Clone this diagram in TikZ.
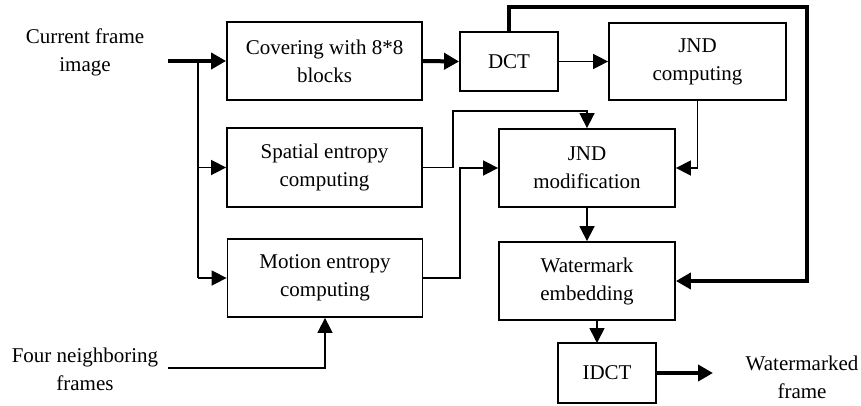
\documentclass[tikz,border=0pt]{standalone}
\usepackage{fontspec}
\setmainfont{Liberation Serif}
\usetikzlibrary{arrows.meta}
\begin{document}
\begin{tikzpicture}[x=1pt,y=-1pt,
  txt/.style={font=\fontsize{21}{28}\selectfont, align=center, inner sep=0pt},
  blk/.style={txt, draw, line width=1.8pt, minimum width=#1},
  thinln/.style={line width=1.6pt},
  thickln/.style={line width=4pt},
  tip/.style={-{Triangle[length=15pt,width=15pt]}},
  tipthick/.style={-{Triangle[length=15pt,width=16pt]}}]
\useasboundingbox (0,0) rectangle (861,405);

% processing blocks
\node[blk=195pt, minimum height=78pt] (cover) at (324.5,61) {Covering with 8*8\\blocks};
\node[blk=98pt, minimum height=59pt] (dct) at (509,61.5) {DCT};
\node[blk=177pt, minimum height=77pt] (jndc) at (697.5,61.5) {JND\\computing};
\node[blk=195pt, minimum height=79pt] (spat) at (324.5,167.5) {Spatial entropy\\computing};
\node[blk=195pt, minimum height=78pt] (mot) at (325,278) {Motion entropy\\computing};
\node[blk=176pt, minimum height=78pt] (jndm) at (587,168) {JND\\modification};
\node[blk=176pt, minimum height=78pt] (wm) at (587,281) {Watermark\\embedding};
\node[blk=98pt, minimum height=60pt] (idct) at (607,373) {IDCT};

% inputs and output labels
\node[txt] (cur) at (85,52) {Current frame\\image};
\node[txt] (four) at (85,369) {Four neighboring\\frames};
\node[txt] (out) at (802,377) {Watermarked\\frame};

% junction points
\coordinate (in) at (168,61);
\coordinate (trunk) at (198,61);
\coordinate (nb) at (168,368);
\coordinate (outend) at (713,373);

% current frame into the block splitter and entropy blocks
\draw[thickln, tipthick] (in) -- (cover.west);
\draw[thinln] (trunk) -- (198,278);
\draw[thinln, tip] (198,167.5) -- (spat.west);
\draw[thinln, tip] (198,278) -- (mot.west);

% neighbouring frames into motion entropy
\draw[thinln, tip] (nb) -| (mot.south);

% DCT chain
\draw[thickln, tipthick] (cover.east) -- (dct.west);
\draw[thinln, tip] (dct.east) -- (jndc.west);

% entropy results into JND modification
\draw[thinln, tip] (spat.east) -- (453,167.5) -- (453,111) -- (587,111) -- (jndm.north);
\draw[thinln, tip] (mot.east) -- (460,278) -- (460,168) -- (jndm.west);
\draw[thinln, tip] (jndc.south) |- (jndm.east);

% embedding
\draw[thinln, tip] (jndm.south) -- (wm.north);
\draw[thickln, tipthick, line join=miter] (dct.north) -- (509,7) -- (807,7) -- (807,281) -- (wm.east);
\draw[thinln, tip] (597,320) -- (597,343);
\draw[thickln, tipthick] (idct.east) -- (outend);
\end{tikzpicture}
\end{document}
